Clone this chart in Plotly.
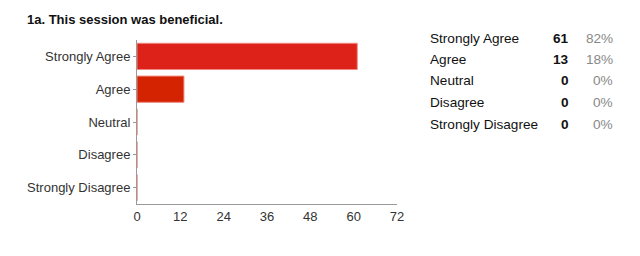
import plotly.graph_objects as go

categories = ["Strongly Agree", "Agree", "Neutral", "Disagree", "Strongly Disagree"]
counts = [61, 13, 0, 0, 0]
percents = ["82%", "18%", "0%", "0%", "0%"]
bar_colors = ["#dc2219", "#d42300", "#dc2219", "#dc2219", "#dc2219"]
x_ticks = [0, 12, 24, 36, 48, 60, 72]

fig = go.Figure()
fig.add_trace(go.Bar(
    y=categories, x=counts, orientation="h",
    marker=dict(color=bar_colors, line=dict(color="#f08a80", width=1)),
    width=0.8, hoverinfo="x+y",
))

font = "Liberation Sans, Arial, sans-serif"
fig.update_layout(
    width=640, height=256,
    margin=dict(l=137, r=243, t=40, b=52),
    paper_bgcolor="white", plot_bgcolor="white",
    showlegend=False,
    font=dict(family=font, size=13, color="#333"),
    xaxis=dict(range=[0, 72], tickvals=x_ticks, showgrid=False, zeroline=False,
               showline=True, linecolor="#999", linewidth=1, ticks="", ticklen=0,
               tickfont=dict(size=13, color="#333"), fixedrange=True),
    yaxis=dict(categoryorder="array", categoryarray=categories[::-1],
               range=[-0.5, 4.5], showgrid=False, zeroline=False,
               showline=True, linecolor="#999", linewidth=1,
               ticks="outside", ticklen=3, tickcolor="#999",
               tickfont=dict(size=13, color="#333"), fixedrange=True),
)

fig.add_annotation(text="<b>1a. This session was beneficial.</b>", xref="paper", yref="paper",
                   x=(25 - 137) / 260, y=1, yshift=21, xanchor="left", yanchor="middle",
                   showarrow=False, font=dict(size=13, color="#111", family=font))

row_y = [38, 59, 80, 102, 124]
for cat, c, p, ry in zip(categories, counts, percents, row_y):
    yp = 1 - (ry - 40) / 164
    fig.add_annotation(text=cat, xref="paper", yref="paper", x=(428 - 137) / 260, y=yp,
                       xanchor="left", yanchor="middle", showarrow=False,
                       font=dict(size=13.6, color="#111", family=font))
    fig.add_annotation(text="<b>%d</b>" % c, xref="paper", yref="paper", x=(571 - 137) / 260, y=yp,
                       xanchor="right", yanchor="middle", showarrow=False,
                       font=dict(size=13.6, color="#111", family=font))
    fig.add_annotation(text=p, xref="paper", yref="paper", x=(615 - 137) / 260, y=yp,
                       xanchor="right", yanchor="middle", showarrow=False,
                       font=dict(size=13.6, color="#888", family=font))

fig.write_html("out.html")
